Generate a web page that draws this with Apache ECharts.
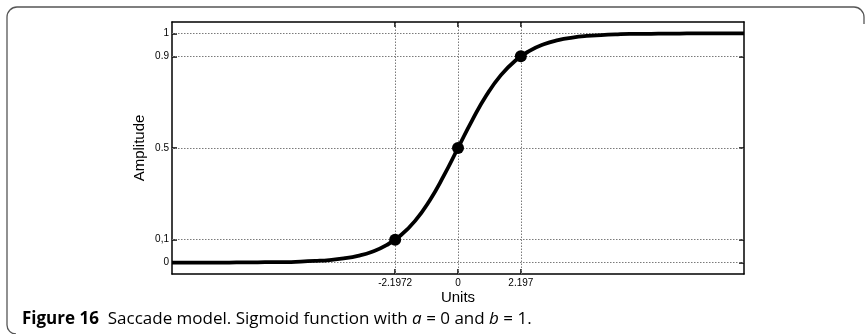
<!DOCTYPE html>
<html>
<head>
<meta charset="utf-8">
<script src="https://cdn.jsdelivr.net/npm/echarts@6/dist/echarts.min.js"></script>
<style>
  html, body { margin: 0; padding: 0; background: #fff; }
  #chart { width: 866px; height: 334px; }
</style>
</head>
<body>
<div id="chart"></div>
<script>
// Sigmoid curve samples (Units -> Amplitude)
const unitsX = [-10, -9.5, -9, -8.5, -8, -7.5, -7, -6.5, -6, -5.5, -5, -4.5, -4, -3.5, -3, -2.5, -2, -1.5, -1, -0.5,
  0, 0.5, 1, 1.5, 2, 2.5, 3, 3.5, 4, 4.5, 5, 5.5, 6, 6.5, 7, 7.5, 8, 8.5, 9, 9.5, 10];
const amplitudeY = [0.000, 0.000, 0.000, 0.000, 0.000, 0.001, 0.001, 0.002, 0.002, 0.004, 0.007, 0.011, 0.018, 0.029, 0.047, 0.076, 0.119, 0.182, 0.269, 0.378,
  0.500, 0.622, 0.731, 0.818, 0.881, 0.924, 0.953, 0.971, 0.982, 0.989, 0.993, 0.996, 0.998, 0.998, 0.999, 0.999, 1.000, 1.000, 1.000, 1.000, 1.000];

// Highlighted points on the curve
const markX = [-2.1972, 0, 2.197];
const markY = [0.1, 0.5, 0.9];

// Tick positions and their printed labels
const xTickValues = [-2.1972, 0, 2.197];
const xTickLabels = ['-2.1972', '0', '2.197'];
const yTickValues = [0, 0.1, 0.5, 0.9, 1];
const yTickLabels = ['0', '0,1', '0.5', '0.9', '1'];

const curveData = unitsX.map((x, i) => [x, amplitudeY[i]]);
const pointData = markX.map((x, i) => [x, markY[i]]);

function labelFor(values, labels) {
  return function (v) {
    for (let i = 0; i < values.length; i++) {
      if (Math.abs(values[i] - v) < 1e-6) return labels[i];
    }
    return '';
  };
}

const axisFont = 'Liberation Sans, Arial, Helvetica, sans-serif';
const frameColor = '#555';
const frameStyle = { stroke: frameColor, lineWidth: 1.3, fill: null };
const gridLine = { color: '#7a7a7a', type: [1.5, 1.5], width: 1 };
const captionSize = 17;

const chart = echarts.init(document.getElementById('chart'), null, { renderer: 'canvas' });

const option = {
  backgroundColor: '#fff',
  animation: false,
  grid: { left: 172, right: 122, top: 22, bottom: 60 },
  xAxis: [
    {
      type: 'value', min: -10, max: 10, position: 'bottom',
      name: 'Units', nameLocation: 'middle', nameGap: 16, nameMoveOverlap: false,
      nameTextStyle: { fontFamily: axisFont, fontSize: 15, color: '#000' },
      axisLine: { show: true, onZero: false, lineStyle: { color: '#000', width: 1.5 } },
      axisTick: { show: true, inside: true, length: 5, customValues: xTickValues, lineStyle: { color: '#000', width: 1.5 } },
      axisLabel: { show: true, customValues: xTickValues, margin: 4, fontFamily: axisFont, fontSize: 10, color: '#000',
        formatter: labelFor(xTickValues, xTickLabels) },
      splitLine: { show: false }
    },
    {
      type: 'value', min: -10, max: 10, position: 'top',
      axisLine: { show: true, onZero: false, lineStyle: { color: '#000', width: 1.5 } },
      axisTick: { show: true, inside: true, length: 5, customValues: xTickValues, lineStyle: { color: '#000', width: 1.5 } },
      axisLabel: { show: false },
      splitLine: { show: false }
    }
  ],
  yAxis: [
    {
      type: 'value', min: -0.05, max: 1.05, position: 'left',
      name: 'Amplitude', nameLocation: 'middle', nameGap: 25, nameMoveOverlap: false,
      nameTextStyle: { fontFamily: axisFont, fontSize: 15, color: '#000' },
      axisLine: { show: true, onZero: false, lineStyle: { color: '#000', width: 1.5 } },
      axisTick: { show: true, inside: true, length: 5, customValues: yTickValues, lineStyle: { color: '#000', width: 1.5 } },
      axisLabel: { show: true, customValues: yTickValues, margin: 3, fontFamily: axisFont, fontSize: 10, color: '#000',
        formatter: labelFor(yTickValues, yTickLabels) },
      splitLine: { show: false }
    },
    {
      type: 'value', min: -0.05, max: 1.05, position: 'right',
      axisLine: { show: true, onZero: false, lineStyle: { color: '#000', width: 1.5 } },
      axisTick: { show: true, inside: true, length: 5, customValues: yTickValues, lineStyle: { color: '#000', width: 1.5 } },
      axisLabel: { show: false },
      splitLine: { show: false }
    }
  ],
  series: [
    {
      // dotted guide lines at every tick, kept beneath the curve
      type: 'line', data: [], silent: true, z: 1,
      markLine: {
        silent: true, z: 1, symbol: ['none', 'none'], label: { show: false },
        lineStyle: gridLine, animation: false,
        data: xTickValues.map(v => ({ xAxis: v })).concat(yTickValues.map(v => ({ yAxis: v })))
      }
    },
    {
      type: 'line', data: curveData, smooth: true, showSymbol: false, symbol: 'none',
      lineStyle: { color: '#000', width: 3.8 }, z: 3
    },
    {
      type: 'scatter', data: pointData, symbol: 'circle', symbolSize: 12,
      itemStyle: { color: '#000', opacity: 1 }, z: 4
    }
  ],
  graphic: [
    // figure frame: left edge, top edge and rounded corners
    { type: 'arc', silent: true, shape: { cx: 16, cy: 325, r: 9, startAngle: Math.PI / 2, endAngle: Math.PI, clockwise: true }, style: frameStyle },
    { type: 'line', silent: true, shape: { x1: 7, y1: 325, x2: 7, y2: 17 }, style: frameStyle },
    { type: 'arc', silent: true, shape: { cx: 17, cy: 17, r: 10, startAngle: Math.PI, endAngle: Math.PI * 1.5, clockwise: true }, style: frameStyle },
    { type: 'line', silent: true, shape: { x1: 17, y1: 7, x2: 854, y2: 7 }, style: frameStyle },
    { type: 'arc', silent: true, shape: { cx: 854, cy: 17, r: 10, startAngle: Math.PI * 1.5, endAngle: Math.PI * 2, clockwise: true }, style: frameStyle },
    { type: 'line', silent: true, shape: { x1: 864, y1: 17, x2: 864, y2: 24 }, style: frameStyle },
    {
      type: 'text', left: 22, top: 311, silent: true,
      style: {
        text: '{b|Figure 16}  {r|Saccade model. Sigmoid function with }{i|a}{r| = 0 and }{i|b}{r| = 1.}',
        font: captionSize + 'px "Open Sans"',
        rich: {
          b: { fontFamily: 'Open Sans', fontWeight: 'bold', fontSize: captionSize, fill: '#000' },
          r: { fontFamily: 'Open Sans', fontSize: captionSize, fill: '#000' },
          i: { fontFamily: 'Open Sans', fontStyle: 'italic', fontSize: captionSize, fill: '#000' }
        }
      }
    }
  ]
};

chart.setOption(option);
</script>
</body>
</html>
